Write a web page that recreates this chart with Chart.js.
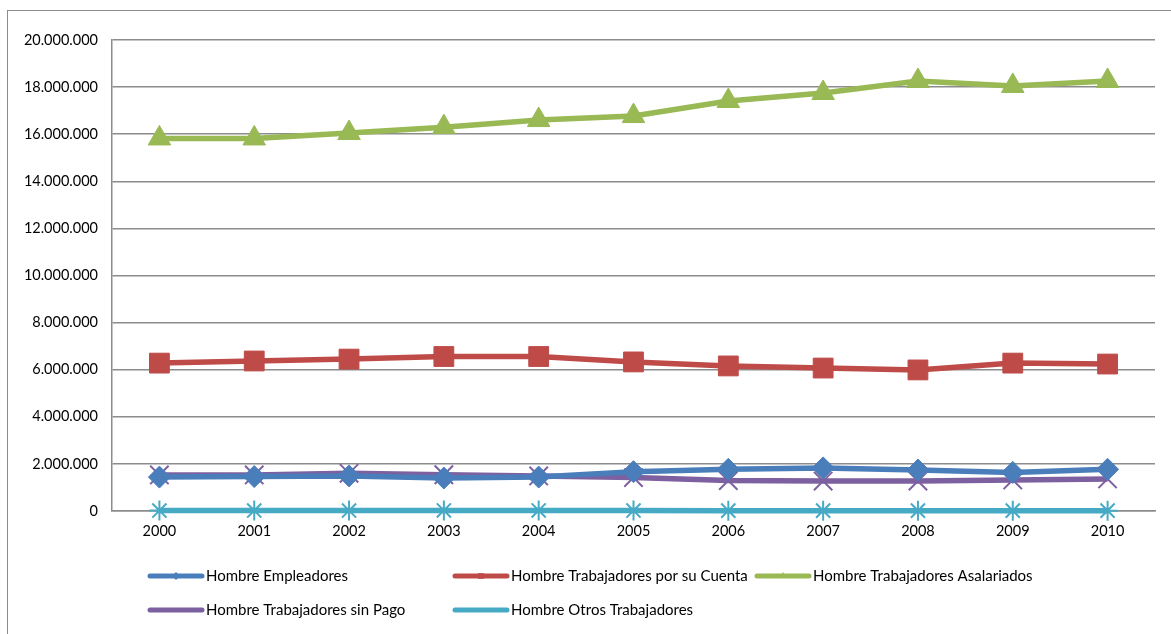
<!DOCTYPE html>
<html lang="es">
<head>
    <meta charset="UTF-8">
    <title>Hombres por categoría ocupacional</title>
    <script src="https://cdn.jsdelivr.net/npm/chart.js"></script>
    <style>
        html, body { margin: 0; padding: 0; background: #fff; overflow: hidden; }
        .frame {
            position: absolute;
            left: 7px;
            top: 10px;
            width: 1200px;
            height: 700px;
            border: 1.5px solid #8c8c8c;
        }
        .chart-box {
            position: absolute;
            left: 0;
            top: 0;
            width: 1171px;
            height: 634px;
        }
    </style>
</head>
<body>
    <div class="frame"></div>
    <div class="chart-box">
        <canvas id="workersChart"></canvas>
    </div>

    <script>
        // Data
        const years = ['2000', '2001', '2002', '2003', '2004', '2005', '2006', '2007', '2008', '2009', '2010'];

        const empleadores   = [1440000, 1460000, 1490000, 1400000, 1440000, 1670000, 1770000, 1830000, 1740000, 1640000, 1770000];
        const porSuCuenta   = [6280000, 6370000, 6450000, 6560000, 6560000, 6330000, 6160000, 6070000, 5990000, 6280000, 6240000];
        const asalariados   = [15820000, 15820000, 16050000, 16300000, 16600000, 16770000, 17410000, 17750000, 18260000, 18050000, 18260000];
        const sinPago       = [1530000, 1530000, 1600000, 1540000, 1490000, 1420000, 1290000, 1270000, 1270000, 1320000, 1360000];
        const otros         = [20000, 20000, 20000, 25000, 25000, 20000, 15000, 15000, 15000, 15000, 15000];

        const seriesNames = [
            'Hombre Empleadores',
            'Hombre Trabajadores por su Cuenta',
            'Hombre Trabajadores Asalariados',
            'Hombre Trabajadores sin Pago',
            'Hombre Otros Trabajadores'
        ];

        const FONT = 'Lato, "Open Sans", sans-serif';

        function formatThousands(v) {
            return String(v).replace(/\B(?=(\d{3})+(?!\d))/g, '.');
        }

        function makeSet(label, data, color, style, radius) {
            const stroked = (style === 'crossRot' || style === 'star');
            return {
                label: label,
                data: data,
                borderColor: color,
                backgroundColor: color,
                borderWidth: 5.5,
                clip: false,
                pointStyle: style,
                pointRadius: radius,
                pointHoverRadius: radius,
                pointBorderWidth: stroked ? 2 : 1,
                pointBorderColor: color,
                pointBackgroundColor: color,
                tension: 0
            };
        }

        // Legend drawn on the canvas in a 3-column grid, like the original
        const gridLegend = {
            id: 'gridLegend',
            afterDraw(chart) {
                const ctx = chart.ctx;
                const cols = [150, 455, 757];
                const rows = [576, 610];
                ctx.save();
                ctx.font = '15px ' + FONT;
                ctx.textBaseline = 'middle';
                chart.data.datasets.forEach((ds, i) => {
                    const x = cols[i % 3];
                    const y = rows[Math.floor(i / 3)];
                    ctx.strokeStyle = ds.borderColor;
                    ctx.lineWidth = 5;
                    ctx.lineCap = 'round';
                    ctx.beginPath();
                    ctx.moveTo(x, y);
                    ctx.lineTo(x + 52, y);
                    ctx.stroke();
                    ctx.fillStyle = ds.borderColor;
                    ctx.lineWidth = 1.5;
                    Chart.helpers.drawPoint(ctx, {
                        pointStyle: ds.pointStyle,
                        radius: 4,
                        rotation: 0
                    }, x + 26, y);
                    ctx.fillStyle = '#000';
                    ctx.fillText(ds.label, x + 56, y);
                });
                ctx.restore();
            }
        };

        new Chart(document.getElementById('workersChart'), {
            type: 'line',
            data: {
                labels: years,
                datasets: [
                    makeSet(seriesNames[0], empleadores, '#4a7ebb', 'rectRot', 11),
                    makeSet(seriesNames[1], porSuCuenta, '#be4b48', 'rect', 14),
                    makeSet(seriesNames[2], asalariados, '#98b954', 'triangle', 13),
                    makeSet(seriesNames[3], sinPago, '#7d60a0', 'crossRot', 13),
                    makeSet(seriesNames[4], otros, '#46aac5', 'star', 10)
                ]
            },
            plugins: [gridLegend],
            options: {
                responsive: true,
                maintainAspectRatio: false,
                animation: false,
                layout: {
                    padding: { top: 40, right: 16, bottom: 0, left: 0 }
                },
                plugins: {
                    legend: { display: false },
                    tooltip: { enabled: false }
                },
                scales: {
                    x: {
                        offset: true,
                        grid: { display: false, drawTicks: false },
                        border: { color: '#8c8c8c', width: 1.5 },
                        ticks: {
                            color: '#000',
                            font: { family: FONT, size: 14.5 },
                            padding: 12,
                            maxRotation: 0
                        },
                        afterFit(scale) { scale.height = 123; }
                    },
                    y: {
                        min: 0,
                        max: 20000000,
                        grid: { color: '#8c8c8c', lineWidth: 1.5, drawTicks: false },
                        border: { color: '#8c8c8c', width: 1.5 },
                        ticks: {
                            stepSize: 2000000,
                            color: '#000',
                            font: { family: FONT, size: 14.5 },
                            padding: 14,
                            callback: (v) => formatThousands(v)
                        },
                        afterFit(scale) { scale.width = 112; }
                    }
                }
            }
        });
    </script>
</body>
</html>
